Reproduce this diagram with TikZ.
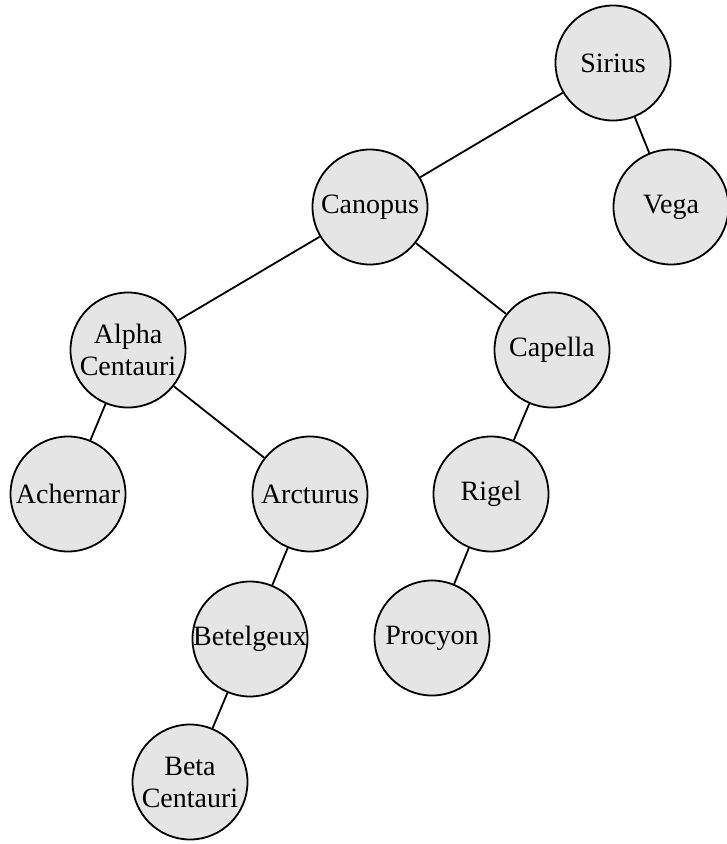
\documentclass[tikz,border=0pt]{standalone}
\usepackage{fontspec}
\setmainfont{Liberation Serif}
\newcommand\starfnt{\fontsize{28}{32}\selectfont}
\begin{document}
\begin{tikzpicture}[x=1pt,y=1pt,
  star/.style={circle, draw, line width=1.8pt, fill=black!10, minimum size=115pt, inner sep=0pt},
  starlabel/.style={font=\starfnt, align=center, inner sep=0pt},
  edge/.style={line width=1.8pt}]
\useasboundingbox (0,0) rectangle (727,-844);
\node[star, label={[starlabel]center:Sirius}] (sirius) at (613,-63) {};
\node[star, label={[starlabel]center:Vega}] (vega) at (671,-207) {};
\node[star, label={[starlabel]center:Canopus}] (canopus) at (370,-207) {};
\node[star, label={[starlabel]center:{Alpha\\Centauri}}] (alpha) at (128,-350) {};
\node[star, label={[starlabel]center:Capella}] (capella) at (552,-350) {};
\node[star, label={[starlabel]center:Achernar}] (achernar) at (68,-494) {};
\node[star, label={[starlabel]center:Arcturus}] (arcturus) at (310,-494) {};
\node[star, label={[starlabel]center:Rigel}] (rigel) at (491,-494) {};
\node[star, label={[starlabel]center:Betelgeux}] (betelgeux) at (250,-639) {};
\node[star, label={[starlabel]center:Procyon}] (procyon) at (432,-638) {};
\node[star, label={[starlabel]center:{Beta\\Centauri}}] (beta) at (190,-782) {};
\draw[edge] (sirius) -- (canopus);
\draw[edge] (sirius) -- (vega);
\draw[edge] (canopus) -- (alpha);
\draw[edge] (canopus) -- (capella);
\draw[edge] (alpha) -- (achernar);
\draw[edge] (alpha) -- (arcturus);
\draw[edge] (capella) -- (rigel);
\draw[edge] (rigel) -- (procyon);
\draw[edge] (arcturus) -- (betelgeux);
\draw[edge] (betelgeux) -- (beta);
\end{tikzpicture}
\end{document}
